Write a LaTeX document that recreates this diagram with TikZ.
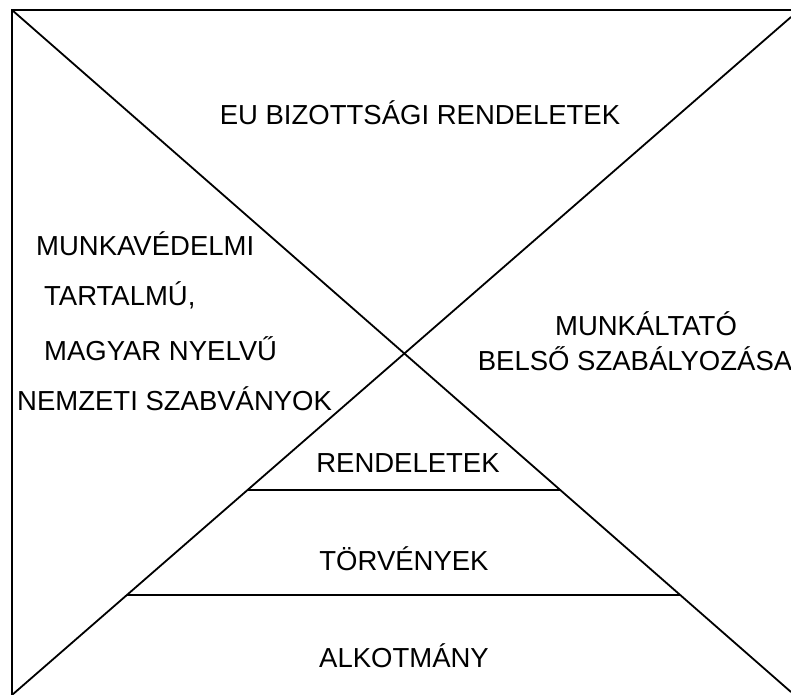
\documentclass[tikz,border=0pt]{standalone}
\usepackage{fontspec}
\setmainfont{Liberation Sans}
\begin{document}
\begin{tikzpicture}[x=1bp,y=-1bp,
  lbl/.style={inner sep=0pt,font=\fontsize{27.5bp}{33bp}\selectfont},
  frameline/.style={line width=2.6bp,line cap=rect},
  thinline/.style={line width=1.8bp}]
\useasboundingbox (0,0) rectangle (791,695);
\fill[white] (0,0) rectangle (791,695);
% corner coordinates
\coordinate (tl) at (12,10);
\coordinate (tr) at (791,10);
\coordinate (bl0) at (12,695);
\coordinate (dtr) at (791,17);
\coordinate (dbr) at (791,692);
\coordinate (h1a) at (0,490);
\coordinate (h1b) at (791,490);
\coordinate (h2a) at (0,595);
\coordinate (h2b) at (791,595);
\coordinate (r1l) at (intersection of dtr--bl0 and h1a--h1b);
\coordinate (r1r) at (intersection of tl--dbr and h1a--h1b);
\coordinate (r2l) at (intersection of dtr--bl0 and h2a--h2b);
\coordinate (r2r) at (intersection of tl--dbr and h2a--h2b);
% frame
\draw[frameline] (bl0) -- (tl) -- (tr);
% diagonals
\draw[thinline] (tl) -- (dbr);
\draw[thinline] (dtr) -- (bl0);
% pyramid levels
\draw[thinline] (r1l) -- (r1r);
\draw[thinline] (r2l) -- (r2r);
% texts
\node[lbl,anchor=base] (eu) at (420,125) {EU BIZOTTSÁGI RENDELETEK};
\node[lbl,anchor=base west] (m1) at (36,255) {MUNKAVÉDELMI};
\node[lbl,anchor=base west] (m2) at (44,305) {TARTALMÚ,};
\node[lbl,anchor=base west] (m3) at (44,360) {MAGYAR NYELVŰ};
\node[lbl,anchor=base west] (m4) at (17,410) {NEMZETI SZABVÁNYOK};
\node[lbl,anchor=base] (w1) at (646,335) {MUNKÁLTATÓ};
\node[lbl,anchor=base] (w2) at (635,370) {BELSŐ SZABÁLYOZÁSA};
\node[lbl,anchor=base] (rend) at (408,472) {RENDELETEK};
\node[lbl,anchor=base] (torv) at (404,570) {TÖRVÉNYEK};
\node[lbl,anchor=base] (alk) at (404,667) {ALKOTMÁNY};
\end{tikzpicture}
\end{document}
